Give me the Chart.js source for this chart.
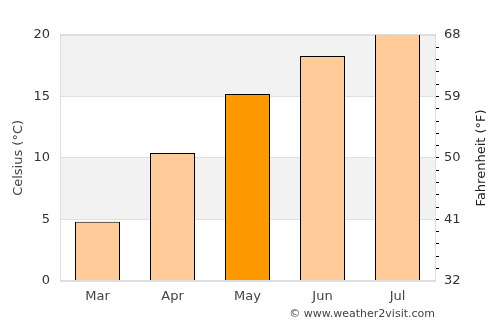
<!DOCTYPE html>
<html>
<head>
<meta charset="utf-8">
<script src="https://cdn.jsdelivr.net/npm/chart.js@4/dist/chart.umd.min.js"></script>
<style>
  body { margin: 0; background: #fff; }
  #wrap { position: relative; width: 500px; height: 325px; }
  #credit {
    position: absolute; right: 65px; top: 307px;
    font: 11px "DejaVu Sans", sans-serif; color: #444;
  }
</style>
</head>
<body>
<div id="wrap">
  <canvas id="chart" width="500" height="325"></canvas>
  <div id="credit">© www.weather2visit.com</div>
</div>
<script>
const months = ['Mar', 'Apr', 'May', 'Jun', 'Jul'];
const celsius = [4.8, 10.4, 15.2, 18.3, 21];
const barColors = ['#ffcc99', '#ffcc99', '#ff9900', '#ffcc99', '#ffcc99'];
const bands = [[5, 10], [15, 20]];
const leftTitle = 'Celsius (°C)';
const rightTitle = 'Fahrenheit (°F)';

const font = { family: 'DejaVu Sans', size: 13 };

// grey bands, plot frame and the two rotated axis titles
const bandPlugin = {
  id: 'bands',
  beforeDraw(chart) {
    const { ctx, chartArea: a, scales } = chart;
    const y = scales.y;
    ctx.save();
    ctx.fillStyle = '#f2f2f2';
    bands.forEach(([lo, hi]) => {
      const top = y.getPixelForValue(hi);
      const bot = y.getPixelForValue(lo);
      ctx.fillRect(a.left, top, a.right - a.left, bot - top);
    });
    ctx.restore();
  },
  afterDatasetsDraw(chart) {
    const { ctx, chartArea: a } = chart;
    ctx.save();
    ctx.strokeStyle = '#dddddd';
    ctx.lineWidth = 1;
    ctx.strokeRect(Math.round(a.left) + 0.5, Math.round(a.top) - 0.5,
      Math.round(a.right - a.left), Math.round(a.bottom - a.top) + 1);

    const midY = (a.top + a.bottom) / 2;
    ctx.font = '13px "DejaVu Sans"';
    ctx.textAlign = 'center';
    ctx.textBaseline = 'middle';
    ctx.fillStyle = '#444';
    ctx.translate(19, midY);
    ctx.rotate(-Math.PI / 2);
    ctx.fillText(leftTitle, 0, 0);
    ctx.setTransform(1, 0, 0, 1, 0, 0);
    ctx.fillStyle = '#222';
    ctx.translate(482, midY);
    ctx.rotate(-Math.PI / 2);
    ctx.fillText(rightTitle, 0, 0);
    ctx.restore();
  }
};

new Chart(document.getElementById('chart'), {
  type: 'bar',
  data: {
    labels: months,
    datasets: [{
      data: celsius,
      backgroundColor: barColors,
      borderColor: '#000',
      borderWidth: 1,
      barPercentage: 0.6,
      categoryPercentage: 1.0,
      clip: 0
    }]
  },
  options: {
    responsive: false,
    animation: false,
    layout: { padding: { top: 35, bottom: 12.6, left: 23.46, right: 34.46 } },
    plugins: { legend: { display: false }, tooltip: { enabled: false } },
    scales: {
      x: {
        grid: { display: false, drawTicks: false },
        border: { display: false },
        ticks: { color: '#444', font, padding: 8 }
      },
      y: {
        min: 0, max: 20,
        ticks: { stepSize: 5, color: '#333', font, padding: 10 },
        grid: { color: '#e0e0e0', drawTicks: false },
        border: { display: false }
      },
      y2: {
        position: 'right',
        min: 0, max: 20,
        ticks: {
          stepSize: 1, autoSkip: false, color: '#333', font, padding: 5,
          callback: v => v % 5 === 0 ? Math.round(v * 1.8 + 32) : ''
        },
        grid: {
          drawOnChartArea: false, tickLength: 4,
          color: c => (c.tick && (c.tick.value === 0 || c.tick.value === 20)) ? 'rgba(0,0,0,0)' : '#000'
        },
        border: { display: false }
      }
    }
  },
  plugins: [bandPlugin]
});
</script>
</body>
</html>
